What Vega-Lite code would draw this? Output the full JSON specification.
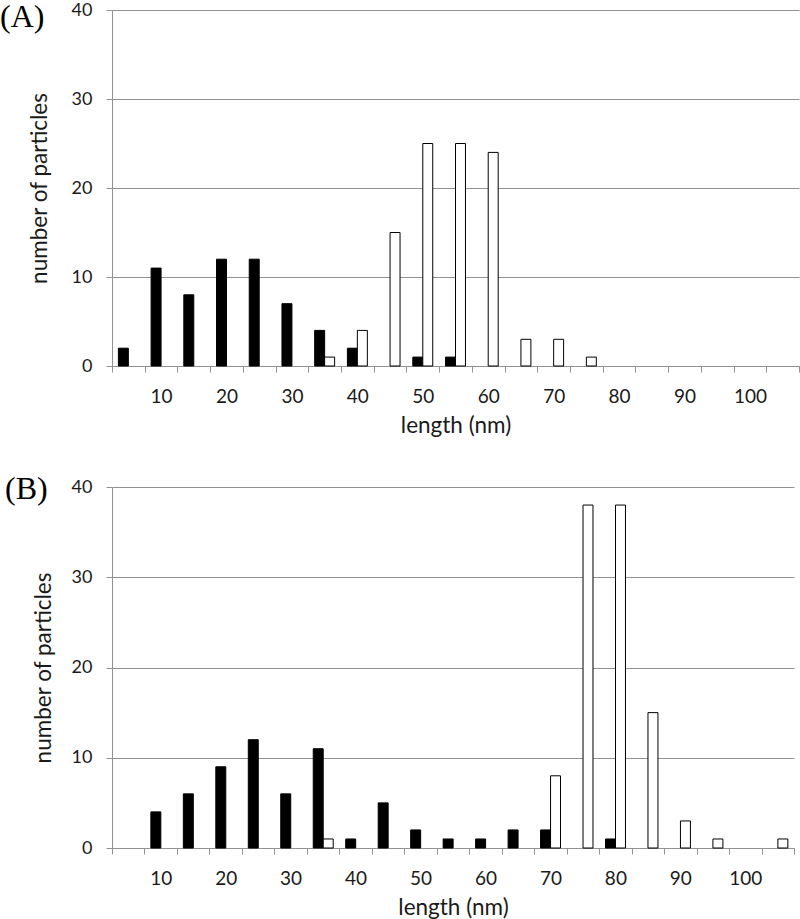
{
  "$schema": "https://vega.github.io/schema/vega-lite/v6.json",
  "padding": {"left": 0, "top": 0, "right": 0, "bottom": 0},
  "background": "#ffffff",
  "config": {
    "view": {"stroke": null},
    "font": "Lato",
    "axis": {
      "domainColor": "#929292",
      "tickColor": "#929292",
      "gridColor": "#929292",
      "tickSize": 6,
      "labelColor": "#1a1a1a",
      "titleColor": "#1a1a1a",
      "titleFontWeight": "normal",
      "labelFont": "Lato",
      "titleFont": "Lato"
    },
    "axisX": {"labelFontSize": 19, "titleFontSize": 22.5, "labelPadding": 15, "titlePadding": 8, "grid": false, "labelAngle": 0},
    "axisY": {"labelFontSize": 18, "titleFontSize": 22.5, "labelPadding": 14, "grid": true}
  },
  "datasets": {
    "A": [
      {"length": 5, "series": "black", "count": 2},
      {"length": 10, "series": "black", "count": 11},
      {"length": 15, "series": "black", "count": 8},
      {"length": 20, "series": "black", "count": 12},
      {"length": 25, "series": "black", "count": 12},
      {"length": 30, "series": "black", "count": 7},
      {"length": 35, "series": "black", "count": 4},
      {"length": 40, "series": "black", "count": 2},
      {"length": 50, "series": "black", "count": 1},
      {"length": 55, "series": "black", "count": 1},
      {"length": 35, "series": "white", "count": 1},
      {"length": 40, "series": "white", "count": 4},
      {"length": 45, "series": "white", "count": 15},
      {"length": 50, "series": "white", "count": 25},
      {"length": 55, "series": "white", "count": 25},
      {"length": 60, "series": "white", "count": 24},
      {"length": 65, "series": "white", "count": 3},
      {"length": 70, "series": "white", "count": 3},
      {"length": 75, "series": "white", "count": 1}
    ],
    "B": [
      {"length": 10, "series": "black", "count": 4},
      {"length": 15, "series": "black", "count": 6},
      {"length": 20, "series": "black", "count": 9},
      {"length": 25, "series": "black", "count": 12},
      {"length": 30, "series": "black", "count": 6},
      {"length": 35, "series": "black", "count": 11},
      {"length": 40, "series": "black", "count": 1},
      {"length": 45, "series": "black", "count": 5},
      {"length": 50, "series": "black", "count": 2},
      {"length": 55, "series": "black", "count": 1},
      {"length": 60, "series": "black", "count": 1},
      {"length": 65, "series": "black", "count": 2},
      {"length": 70, "series": "black", "count": 2},
      {"length": 80, "series": "black", "count": 1},
      {"length": 35, "series": "white", "count": 1},
      {"length": 70, "series": "white", "count": 8},
      {"length": 75, "series": "white", "count": 38},
      {"length": 80, "series": "white", "count": 38},
      {"length": 85, "series": "white", "count": 15},
      {"length": 90, "series": "white", "count": 3},
      {"length": 95, "series": "white", "count": 1},
      {"length": 105, "series": "white", "count": 1}
    ]
  },
  "concat": [
    {
      "width": 687,
      "height": 356,
      "title": {"text": "(A)", "anchor": "start", "frame": "group", "dx": -112, "dy": 32.5, "offset": 0, "baseline": "top", "font": "Liberation Serif", "fontSize": 32, "fontWeight": "normal", "color": "#000000"},
      "data": {"name": "A"},
      "mark": {"type": "bar", "stroke": "#000000", "strokeWidth": 1},
      "encoding": {
        "x": {
          "field": "length", "type": "ordinal", "title": "length (nm)",
          "scale": {"domain": [5,10,15,20,25,30,35,40,45,50,55,60,65,70,75,80,85,90,95,100,105], "paddingInner": 0, "paddingOuter": 0},
          "axis": {"tickBand": "extent", "labelExpr": "datum.value % 10 === 0 ? datum.label : ''"}
        },
        "xOffset": {"field": "series", "type": "nominal", "scale": {"domain": ["black", "white"], "paddingInner": 0, "paddingOuter": 0.64}},
        "y": {"field": "count", "type": "quantitative", "title": "number of particles", "scale": {"domain": [0, 40], "nice": false}, "axis": {"values": [0, 10, 20, 30, 40], "titlePadding": 20}},
        "fill": {"field": "series", "type": "nominal", "scale": {"domain": ["black", "white"], "range": ["#000000", "#ffffff"]}, "legend": null}
      }
    },
    {
      "width": 682,
      "height": 361,
      "title": {"text": "(B)", "anchor": "start", "frame": "group", "dx": -107, "dy": 27.5, "offset": 0, "baseline": "top", "font": "Liberation Serif", "fontSize": 32, "fontWeight": "normal", "color": "#000000"},
      "data": {"name": "B"},
      "mark": {"type": "bar", "stroke": "#000000", "strokeWidth": 1},
      "encoding": {
        "x": {
          "field": "length", "type": "ordinal", "title": "length (nm)",
          "scale": {"domain": [5,10,15,20,25,30,35,40,45,50,55,60,65,70,75,80,85,90,95,100,105], "paddingInner": 0, "paddingOuter": 0},
          "axis": {"tickBand": "extent", "labelExpr": "datum.value % 10 === 0 ? datum.label : ''"}
        },
        "xOffset": {"field": "series", "type": "nominal", "scale": {"domain": ["black", "white"], "paddingInner": 0, "paddingOuter": 0.64}},
        "y": {"field": "count", "type": "quantitative", "title": "number of particles", "scale": {"domain": [0, 40], "nice": false}, "axis": {"values": [0, 10, 20, 30, 40], "titlePadding": 16}},
        "fill": {"field": "series", "type": "nominal", "scale": {"domain": ["black", "white"], "range": ["#000000", "#ffffff"]}, "legend": null}
      }
    }
  ],
  "columns": 1,
  "align": "none",
  "spacing": 35
}
